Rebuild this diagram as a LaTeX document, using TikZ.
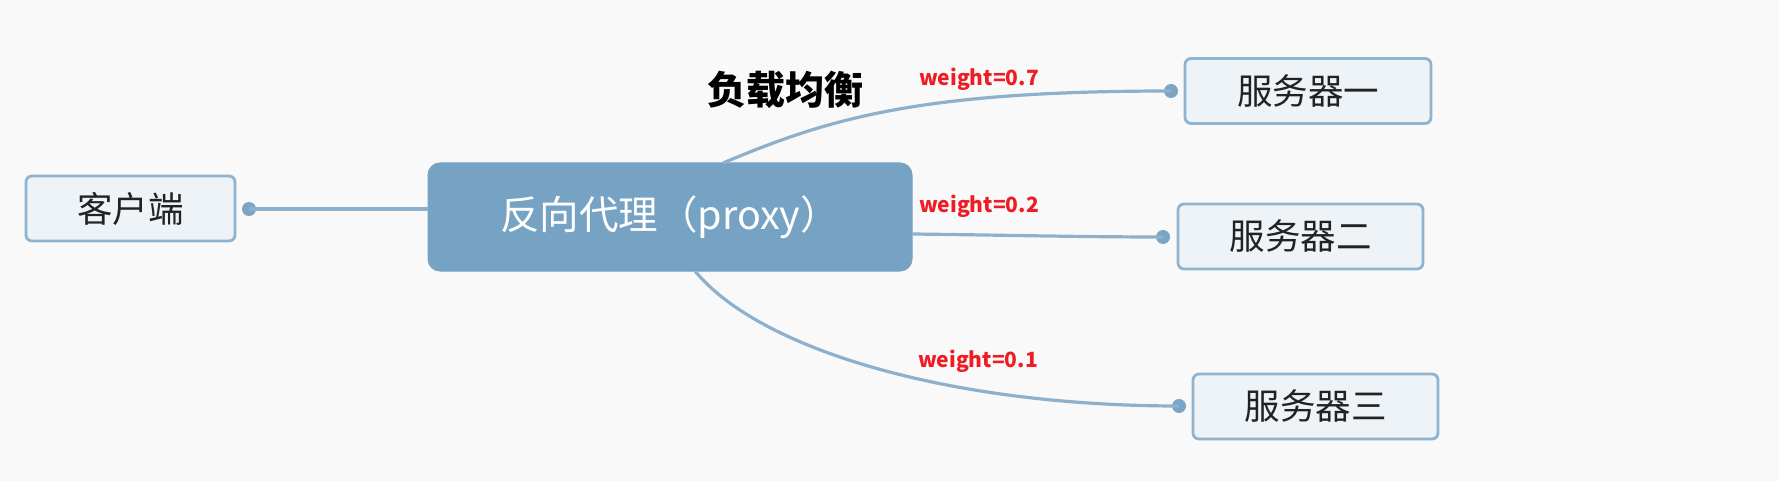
\documentclass[tikz,border=0pt]{standalone}
\usepackage{fontspec}
\newfontfamily\cjk{Noto Sans CJK SC}
\definecolor{bgcol}{HTML}{F9F9FA}
\definecolor{boxfill}{HTML}{EEF3F7}
\definecolor{boxborder}{HTML}{8FB4CF}
\definecolor{hubfill}{HTML}{76A3C3}
\definecolor{linkcol}{HTML}{8DB1CC}
\definecolor{dotcol}{HTML}{7AA5C5}
\definecolor{textdark}{HTML}{222222}
\definecolor{wred}{HTML}{EE1C25}
\tikzset{
  leaf/.style={draw=boxborder, line width=2.8pt, fill=boxfill, rounded corners=6pt,
    minimum height=65pt, inner sep=0pt, text=textdark,
    font=\cjk\fontsize{35.5}{40}\selectfont},
  hub/.style={fill=hubfill, draw=hubfill, line width=1pt, rounded corners=12pt,
    minimum width=484pt, minimum height=108pt, inner sep=0pt, text=white,
    font=\cjk\fontsize{39.5}{44}\selectfont},
  link/.style={draw=linkcol, line width=3.2pt},
  enddot/.style={circle, fill=dotcol, inner sep=0pt, minimum size=14pt},
  wlabel/.style={text=wred, inner sep=0pt, font=\cjk\bfseries\fontsize{21}{24}\selectfont},
  title/.style={inner sep=0pt, text=black, font=\cjk\bfseries\fontsize{39}{44}\selectfont}
}
\begin{document}
\begin{tikzpicture}[x=1pt,y=-1pt]
\fill[bgcol] (0,0) rectangle (1779,481);
\useasboundingbox (0,0) rectangle (1779,481);

% nodes
\node[leaf, minimum width=209pt] (client) at (130.5,208.5) {客户端};
\node[hub] (proxy) at (670,217) {反向代理（proxy）};
\node[leaf, minimum width=246pt] (s1) at (1308,91) {服务器一};
\node[leaf, minimum width=245pt] (s2) at (1300.5,236.5) {服务器二};
\node[leaf, minimum width=245pt] (s3) at (1315.5,406.5) {服务器三};

% end dots
\node[enddot] (d0) at (249,209) {};
\node[enddot] (d1) at (1171,91) {};
\node[enddot] (d2) at (1163,237) {};
\node[enddot] (d3) at (1179,406) {};

% attach points on the proxy
\coordinate (p1) at (723,163);
\coordinate (p2) at (912,234);
\coordinate (p3) at (695,271);

% connectors
\draw[link] (d0.center) -- (d0.center -| proxy.west);
\draw[link] (p1) .. controls (830,118) and (920,91) .. (d1.center);
\draw[link] (p2) .. controls (1000,235) and (1080,237) .. (d2.center);
\draw[link] (p3) .. controls (760,350) and (950,406) .. (d3.center);

% labels
\node[title] (lb) at (785,90) {负载均衡};
\node[wlabel] (w1) at (979,79) {weight=0.7};
\node[wlabel] (w2) at (979,206) {weight=0.2};
\node[wlabel] (w3) at (978,361) {weight=0.1};
\end{tikzpicture}
\end{document}
